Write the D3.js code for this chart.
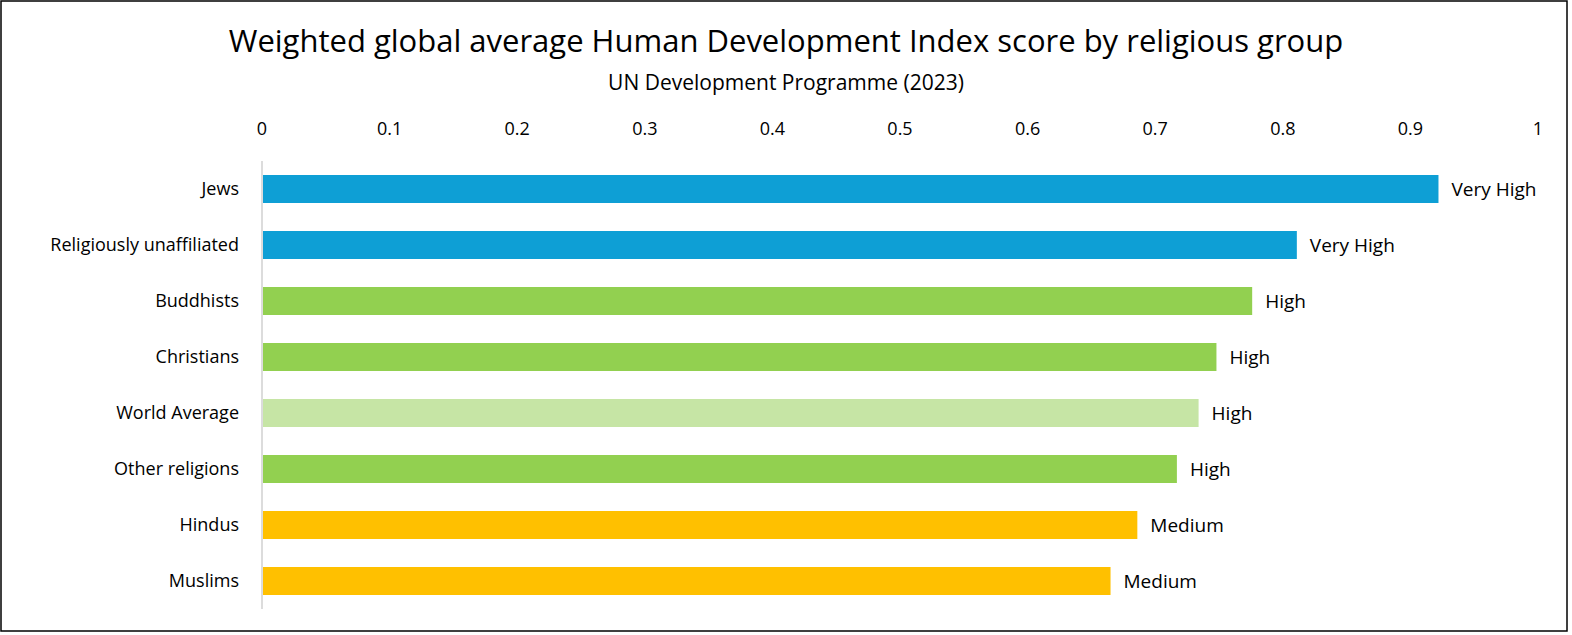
<!DOCTYPE html>
<html><head><meta charset="utf-8">
<script src="https://cdn.jsdelivr.net/npm/d3@7"></script>
<style>body{margin:0;background:#fff}text{font-family:Aptos,"Open Sans","Noto Sans",sans-serif;fill:#000}</style>
</head><body><svg id="c" width="1572" height="635"></svg>
<script>
var groups = ["Jews","Religiously unaffiliated","Buddhists","Christians","World Average","Other religions","Hindus","Muslims"];
var scores = [0.922,0.811,0.776,0.748,0.734,0.717,0.686,0.665];
var levels = ["Very High","Very High","High","High","High","High","Medium","Medium"];
var ticks = [0,0.1,0.2,0.3,0.4,0.5,0.6,0.7,0.8,0.9,1];
var colorOf = {"Very High":"#0E9FD5","High":"#92D050","Medium":"#FFC000"};

var svg = d3.select("#c");
svg.append("rect").attr("x",1).attr("y",1).attr("width",1566).attr("height",630)
  .attr("fill","#fff").attr("stroke","#000").attr("stroke-width",1.5);

var x = d3.scaleLinear().domain([0,1]).range([262,1538]);
var y = d3.scaleBand().domain(groups).range([161,609]).paddingInner(0.5).paddingOuter(0.25);

svg.append("text").attr("x",786).attr("y",52).attr("text-anchor","middle")
  .attr("font-size",31).text("Weighted global average Human Development Index score by religious group");
svg.append("text").attr("x",786).attr("y",90).attr("text-anchor","middle")
  .attr("font-size",21).text("UN Development Programme (2023)");

svg.selectAll(".tk").data(ticks).enter().append("text")
  .attr("x",d=>x(d)).attr("y",135).attr("text-anchor","middle").attr("font-size",18)
  .text(d=>d);

svg.append("line").attr("x1",x(0)).attr("x2",x(0)).attr("y1",161).attr("y2",609)
  .attr("stroke","#d0d0d0").attr("stroke-width",1.5);

svg.selectAll(".bar").data(groups).enter().append("rect")
  .attr("x",x(0)+1).attr("y",d=>y(d)).attr("height",y.bandwidth())
  .attr("width",(d,i)=>x(scores[i])-x(0)-1)
  .attr("fill",(d,i)=>d=="World Average"?"#C6E5A5":colorOf[levels[i]]);

svg.selectAll(".cat").data(groups).enter().append("text")
  .attr("x",239).attr("y",d=>y(d)+y.bandwidth()/2+6).attr("text-anchor","end")
  .attr("font-size",18).text(d=>d);

svg.selectAll(".lab").data(groups).enter().append("text")
  .attr("x",(d,i)=>x(scores[i])+13).attr("y",d=>y(d)+y.bandwidth()/2+7)
  .attr("font-size",19).text((d,i)=>levels[i]);
</script></body></html>
